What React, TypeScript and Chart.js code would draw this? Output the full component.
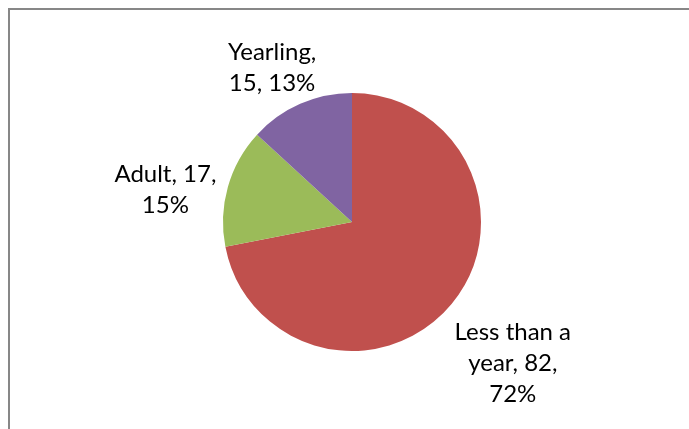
import React, { useEffect, useRef } from "react";
import { Chart, registerables } from "chart.js";

Chart.register(...registerables);

const categories = ["Less than a year", "Adult", "Yearling"];
const values = [82, 17, 15];
const colors = ["#C0504D", "#9BBB59", "#8064A2"];
// label wrapping as in the original (category, value, percent)
const labelLines = [
  ["Less than a", "year, 82,", "72%"],
  ["Adult, 17,", "15%"],
  ["Yearling,", "15, 13%"],
];
// radial gap outside the pie and tangential nudge of each label box
const labelGap = [31, 10, 12];
const labelShift = [12, -14, -6];

const FONT_SIZE = 24;
const LINE_H = 31;
const CAP_H = FONT_SIZE * 0.72;
const FONT = `${FONT_SIZE}px Lato, "Open Sans", sans-serif`;

const labelPlugin = {
  id: "outsideLabels",
  afterDatasetsDraw(chart: any) {
    const ctx = chart.ctx;
    const meta = chart.getDatasetMeta(0);
    ctx.save();
    ctx.font = FONT;
    ctx.fillStyle = "#000";
    ctx.textAlign = "center";
    ctx.textBaseline = "alphabetic";
    meta.data.forEach((arc: any, i: number) => {
      const { x, y, startAngle, endAngle, outerRadius } = arc.getProps(
        ["x", "y", "startAngle", "endAngle", "outerRadius"],
        true
      );
      const mid = (startAngle + endAngle) / 2;
      const dx = Math.cos(mid);
      const dy = Math.sin(mid);
      const lines = labelLines[i];
      const w = Math.max(...lines.map((l) => ctx.measureText(l).width));
      const h = lines.length * LINE_H;
      const px = x + (outerRadius + labelGap[i]) * dx - dy * labelShift[i];
      const py = y + (outerRadius + labelGap[i]) * dy + dx * labelShift[i];
      const cx = px + (dx * w) / 2;
      const cy = py + (dy * h) / 2;
      lines.forEach((line, j) => {
        const ly = cy + (j - (lines.length - 1) / 2) * LINE_H;
        ctx.fillText(line, cx, ly + CAP_H / 2);
      });
    });
    ctx.restore();
  },
};

export default function App() {
  const ref = useRef<HTMLCanvasElement | null>(null);
  useEffect(() => {
    if (!ref.current) return;
    const chart = new Chart(ref.current, {
      type: "pie",
      data: {
        labels: categories,
        datasets: [
          {
            data: values,
            backgroundColor: colors,
            borderWidth: 0,
          },
        ],
      },
      options: {
        animation: false,
        responsive: false,
        layout: { padding: { left: 213, right: 208, top: 83, bottom: 78 } },
        plugins: {
          legend: { display: false },
          tooltip: { enabled: false },
        },
      },
      plugins: [labelPlugin],
    });
    return () => chart.destroy();
  }, []);
  return (
    <div
      style={{
        position: "fixed",
        left: 8,
        top: 8,
        width: 681,
        height: 421,
        borderLeft: "2px solid #878787",
        borderTop: "2px solid #878787",
        background: "#fff",
        overflow: "hidden",
      }}
    >
      <canvas ref={ref} width={679} height={419} style={{ display: "block" }} />
    </div>
  );
}
